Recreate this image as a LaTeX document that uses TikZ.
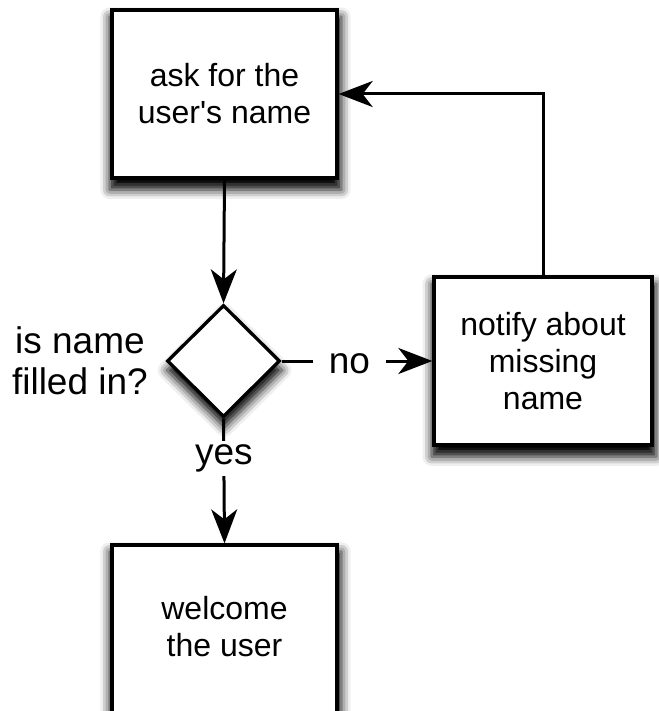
\documentclass[tikz,border=0pt]{standalone}
\usepackage{fontspec}
\setmainfont{Liberation Sans}
\usepackage{tikz}
\usetikzlibrary{arrows.meta,positioning,shapes.geometric,shadows.blur}

\tikzset{
  boxshadow/.style={blur shadow={shadow xshift=1pt,shadow yshift=-9pt,shadow scale=1.03,shadow blur radius=9pt,shadow opacity=100}},
  stepbox/.style={draw,line width=3.3pt,fill=white,rectangle,align=center,boxshadow,
    minimum width=225pt,minimum height=168pt,inner sep=0pt},
  decision/.style={draw,line width=3.3pt,fill=white,diamond,boxshadow,
    minimum width=113pt,minimum height=112pt,inner sep=0pt},
  flow/.style={line width=3pt,-{Stealth[length=34pt,width=26pt,inset=10pt]}},
  edgelabel/.style={fill=white,inner xsep=16pt,inner ysep=4pt,font=\fontsize{37}{41}\selectfont}
}

\begin{document}
\begin{tikzpicture}[x=1pt,y=-1pt,font=\fontsize{32}{37}\selectfont]
  \useasboundingbox (0,0) rectangle (658,711);
  % steps
  \node[stepbox] (ask) at (224.5,94) {ask for the\\user\textquotesingle s name};
  \node[decision] (check) at (223.5,361) {};
  \node[left=14pt of check,align=center,font=\fontsize{37}{41}\selectfont] (question) {is name\\filled in?};
  \node[stepbox,minimum width=218pt] (notify) at (543,361) {notify about\\missing\\name};
  \node[stepbox,minimum height=180pt] (welcome) at (224.5,635) {};
  \node (welcometext) at (224.5,627) [align=center] {welcome\\the user};
  % connectors
  \draw[flow] (ask.south) -- (check.north);
  \draw[flow] (check.east) -- node[edgelabel,pos=0.45,yshift=-3pt] (no) {no} (notify.west);
  \draw[flow] (check.south) -- node[edgelabel,pos=0.32] (yes) {yes} (welcome.north);
  \draw[flow] (notify.north) |- (ask.east);
\end{tikzpicture}
\end{document}
